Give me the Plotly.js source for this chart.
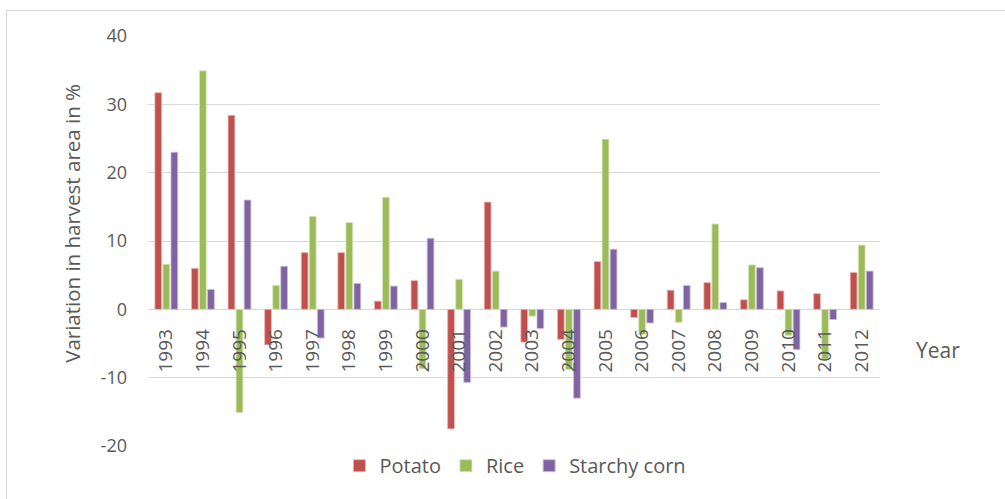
<!DOCTYPE html>
<html>
<head>
<meta charset="utf-8">
<script src="https://cdn.plot.ly/plotly-3.0.1.min.js"></script>
<style>
html,body{margin:0;padding:0;background:#fff;}
#wrap{position:relative;width:1005px;height:499px;}
#chart{width:1005px;height:499px;}
#border{position:absolute;left:6px;top:10px;width:1005px;height:499px;border-left:1px solid #d9d9d9;border-top:1px solid #d9d9d9;pointer-events:none;}
</style>
</head>
<body>
<div id="wrap"><div id="chart"></div><div id="border"></div></div>
<script>
const years = ["1993","1994","1995","1996","1997","1998","1999","2000","2001","2002","2003","2004","2005","2006","2007","2008","2009","2010","2011","2012"];
const potato = [31.7, 6.0, 28.4, -5.2, 8.3, 8.3, 1.2, 4.2, -17.5, 15.7, -4.8, -4.4, 7.0, -1.2, 2.8, 3.9, 1.4, 2.7, 2.3, 5.4];
const rice   = [6.6, 34.9, -15.1, 3.5, 13.6, 12.7, 16.4, -8.7, 4.4, 5.6, -1.0, -8.8, 24.9, -3.7, -1.9, 12.5, 6.5, -3.8, -7.3, 9.4];
const corn   = [23.0, 2.9, 16.0, 6.3, -4.2, 3.8, 3.4, 10.4, -10.7, -2.6, -2.8, -13.0, 8.8, -2.0, 3.5, 1.0, 6.1, -5.9, -1.5, 5.6];
const seriesNames = ["Potato", "Rice", "Starchy corn"];
const yTicks = [-20, -10, 0, 10, 20, 30, 40];
const yTitle = "Variation in harvest area in %";
const xTitle = "Year";

const colors = ["#C0504D", "#9BBB59", "#8064A2"];
const lineCols = ["#e6b9b8", "#d7e4bd", "#ccc1da"];
const FONT = "Open Sans, sans-serif";
const TXT = "#595959";

const traces = [potato, rice, corn].map((vals, i) => ({
  type: "bar",
  name: seriesNames[i],
  x: years,
  y: vals,
  marker: {color: colors[i], line: {color: lineCols[i], width: 0.8}},
  hoverinfo: "x+y+name"
}));

const layout = {
  width: 1005, height: 499,
  margin: {l: 148, r: 125, t: 36, b: 53, pad: 0},
  paper_bgcolor: "#fff", plot_bgcolor: "#fff",
  barmode: "group",
  bargap: 0.34,
  bargroupgap: 0.16,
  font: {family: FONT, color: TXT, size: 18},
  showlegend: true,
  legend: {orientation: "h", x: 0.502, xanchor: "center", y: -0.048, yanchor: "middle",
           font: {family: FONT, size: 20, color: TXT}, itemwidth: 30, traceorder: "normal"},
  xaxis: {
    type: "category",
    anchor: "free", position: 1/3,
    showline: false, showgrid: false, zeroline: false,
    tickangle: -90,
    ticks: "", ticklabelstandoff: 15,
    tickfont: {family: FONT, size: 19, color: TXT},
    fixedrange: true
  },
  yaxis: {
    range: [-20, 40],
    tickvals: yTicks,
    ticktext: yTicks.map(String),
    showgrid: true, gridcolor: "#d9d9d9", gridwidth: 1,
    zeroline: true, zerolinecolor: "#d9d9d9", zerolinewidth: 1,
    showline: false, ticks: "",
    ticklabelstandoff: 20,
    tickfont: {family: FONT, size: 18, color: TXT},
    fixedrange: true
  },
  annotations: [{
    text: xTitle, xref: "paper", yref: "y", x: 1.079, y: -6, xanchor: "center", yanchor: "middle",
    showarrow: false, font: {family: FONT, size: 21, color: TXT}
  }, {
    text: yTitle, xref: "paper", yref: "paper", x: -0.104, y: 0.544, xanchor: "center", yanchor: "middle",
    textangle: -90, showarrow: false, font: {family: FONT, size: 20.5, color: TXT}
  }]
};

Plotly.newPlot("chart", traces, layout, {displayModeBar: false, staticPlot: true});
</script>
</body>
</html>
